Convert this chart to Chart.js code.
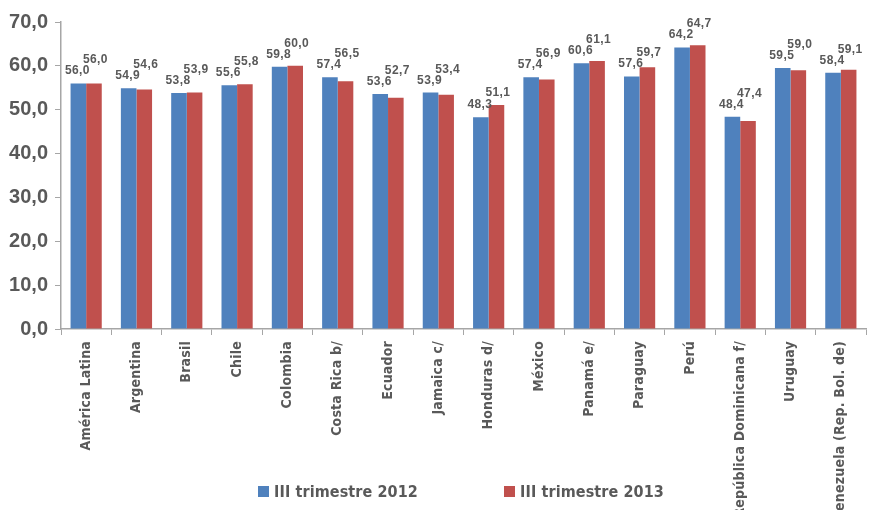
<!DOCTYPE html>
<html>
<head>
<meta charset="utf-8">
<script src="https://cdn.jsdelivr.net/npm/chart.js@4.4.1/dist/chart.umd.min.js"></script>
<style>
  body { margin: 0; background: #fff; }
  #wrap { position: relative; width: 869px; height: 510px; }
  .legend-item {
    position: absolute; top: 483px; height: 17px;
    font: bold 16px "DejaVu Sans Condensed", sans-serif;
    letter-spacing: 0.1px; color: #595959; line-height: 17px; white-space: nowrap;
  }
  .legend-item i {
    display: inline-block; width: 11px; height: 11px; margin-right: 5px;
    vertical-align: 0px;
  }
</style>
</head>
<body>
<div id="wrap">
  <canvas id="chart"></canvas>
  <div class="legend-item" style="left:258px"><i style="background:#4F81BD"></i>III trimestre 2012</div>
  <div class="legend-item" style="left:504px"><i style="background:#C0504D"></i>III trimestre 2013</div>
</div>
<script>
// Chart data
const categories = ['América Latina', 'Argentina', 'Brasil', 'Chile', 'Colombia', 'Costa Rica b/',
    'Ecuador', 'Jamaica c/', 'Honduras d/', 'México', 'Panamá e/', 'Paraguay', 'Perú',
    'República Dominicana f/', 'Uruguay', 'Venezuela (Rep. Bol. de)'];
const seriesNames = ['III trimestre 2012', 'III trimestre 2013'];
const values2012 = [56.0, 54.9, 53.8, 55.6, 59.8, 57.4, 53.6, 53.9, 48.3, 57.4, 60.6, 57.6, 64.2, 48.4, 59.5, 58.4];
const values2013 = [56.0, 54.6, 53.9, 55.8, 60.0, 56.5, 52.7, 53.4, 51.1, 56.9, 61.1, 59.7, 64.7, 47.4, 59.0, 59.1];
const yTicks = [0, 10, 20, 30, 40, 50, 60, 70];

const fmt = v => v.toFixed(1).replace('.', ',');
const axisGray = '#A6A6A6';
const textGray = '#595959';

// spacing for the condensed axis labels, reset before y ticks (z:1) draw
const spacingPlugin = {
    id: 'spacing',
    beforeDraw(chart) {
        chart.ctx.letterSpacing = '0.2px';
    }
};

// value labels above bars
const valueLabels = {
    id: 'valueLabels',
    afterDatasetsDraw(chart) {
        const ctx = chart.ctx;
        const blue = chart.getDatasetMeta(0).data;
        const red = chart.getDatasetMeta(1).data;
        ctx.save();
        ctx.letterSpacing = '0.4px';
        ctx.font = 'bold 12px "Liberation Sans", Arial, sans-serif';
        ctx.fillStyle = textGray;
        ctx.textAlign = 'center';
        ctx.textBaseline = 'alphabetic';
        blue.forEach((b, i) => {
            const r = red[i];
            const by = b.y - 9;
            let ry = r.y - 9;
            if (ry > by - 11) ry = by - 11;
            ctx.fillText(fmt(values2012[i]), b.x - 1, by);
            ctx.fillText(fmt(values2013[i]), r.x + 1.5, ry);
        });
        ctx.restore();
        ctx.letterSpacing = '0px';
    }
};

new Chart(document.getElementById('chart'), {
    type: 'bar',
    data: {
        labels: categories,
        datasets: [
            { label: seriesNames[0], data: values2012, backgroundColor: '#4F81BD' },
            { label: seriesNames[1], data: values2013, backgroundColor: '#C0504D' }
        ]
    },
    options: {
        responsive: true,
        maintainAspectRatio: false,
        animation: false,
        categoryPercentage: 0.62,
        barPercentage: 1,
        layout: { padding: { top: 22, right: 3, left: 0, bottom: 0 } },
        plugins: {
            legend: { display: false },
            tooltip: { enabled: false }
        },
        scales: {
            x: {
                offset: true,
                grid: { display: true, drawOnChartArea: false, color: axisGray, tickLength: 6, offset: true },
                border: { color: axisGray, width: 1.5 },
                ticks: {
                    minRotation: 90, maxRotation: 90, padding: 6,
                    color: textGray,
                    font: { family: '"DejaVu Sans Condensed", sans-serif', size: 14, weight: 'bold' }
                },
                afterFit: s => { s.height = 181; }
            },
            y: {
                min: 0, max: 70,
                grid: { drawOnChartArea: false, color: axisGray, tickLength: 6 },
                border: { color: axisGray, width: 1.5 },
                afterBuildTicks: s => { s.ticks = yTicks.map(v => ({ value: v })); },
                ticks: {
                    z: 1, padding: 7, color: textGray,
                    font: { family: '"Liberation Sans", Arial, sans-serif', size: 20, weight: 'bold' },
                    callback: v => fmt(v)
                },
                afterFit: s => { s.width = 61; }
            }
        }
    },
    plugins: [spacingPlugin, valueLabels]
});
</script>
</body>
</html>
